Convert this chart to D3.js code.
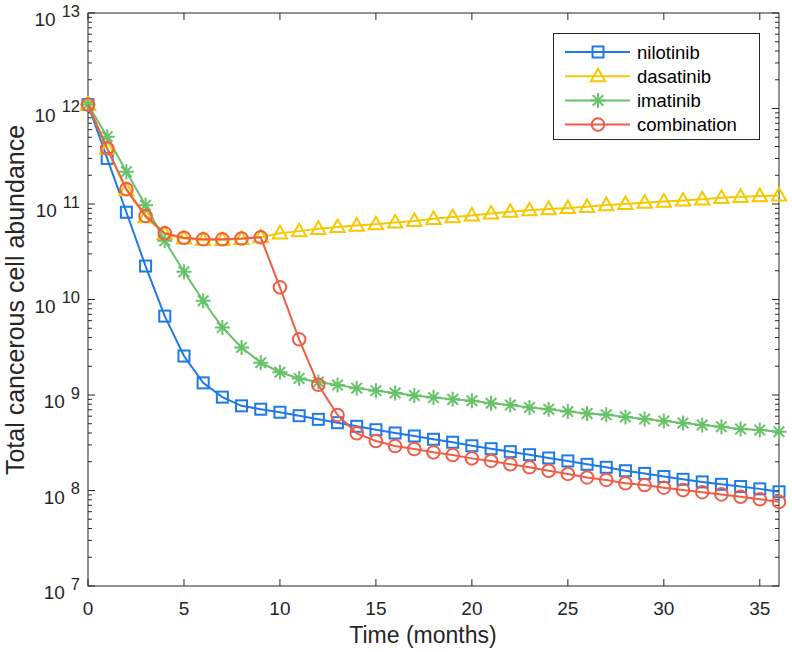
<!DOCTYPE html>
<html><head><meta charset="utf-8">
<script src="https://cdn.jsdelivr.net/npm/d3@7"></script>
<style>
body{margin:0;background:#fff;}
svg{display:block;font-family:"Liberation Sans",Arial,Helvetica,sans-serif;}
</style></head><body>
<svg id="chart" width="792" height="652"></svg>
<script>
const months = d3.range(0, 37);
const nilotinib = [1.1e12,3.0e11,8.2e10,2.24e10,6.7e9,2.56e9,1.34e9,9.5e8,7.7e8,7.1e8,6.6e8,6.07e8,5.56e8,5.13e8,4.7e8,4.33e8,4.0e8,3.72e8,3.44e8,3.2e8,2.94e8,2.74e8,2.55e8,2.37e8,2.19e8,2.04e8,1.88e8,1.75e8,1.61e8,1.51e8,1.40e8,1.31e8,1.23e8,1.16e8,1.10e8,1.04e8,9.7e7];
const dasatinib = [1.1e12,3.8e11,1.4e11,7.3e10,4.85e10,4.35e10,4.2e10,4.2e10,4.3e10,4.5e10,4.93e10,5.2e10,5.5e10,5.75e10,5.95e10,6.15e10,6.4e10,6.65e10,7.0e10,7.3e10,7.6e10,7.95e10,8.3e10,8.6e10,8.85e10,9.1e10,9.35e10,9.75e10,1.0e11,1.03e11,1.06e11,1.09e11,1.12e11,1.16e11,1.19e11,1.21e11,1.23e11];
const imatinib = [1.1e12,5.07e11,2.18e11,9.7e10,4.13e10,1.95e10,9.7e9,5.1e9,3.15e9,2.18e9,1.73e9,1.49e9,1.37e9,1.27e9,1.18e9,1.11e9,1.05e9,9.9e8,9.4e8,9.0e8,8.7e8,8.2e8,7.85e8,7.4e8,7.1e8,6.7e8,6.4e8,6.2e8,5.9e8,5.6e8,5.35e8,5.1e8,4.85e8,4.66e8,4.4e8,4.3e8,4.13e8];
const combination = [1.1e12,3.83e11,1.43e11,7.5e10,4.93e10,4.43e10,4.27e10,4.27e10,4.35e10,4.48e10,1.34e10,3.83e9,1.28e9,6.18e8,3.97e8,3.3e8,2.92e8,2.72e8,2.51e8,2.35e8,2.17e8,2.04e8,1.88e8,1.75e8,1.61e8,1.49e8,1.37e8,1.29e8,1.19e8,1.14e8,1.07e8,1.01e8,9.6e7,9.1e7,8.6e7,8.1e7,7.6e7];
const seriesNames = ["nilotinib","dasatinib","imatinib","combination"];
const xTicks = [0,5,10,15,20,25,30,35];
const yTickExps = [7,8,9,10,11,12,13];
const xLabel = "Time (months)";
const yLabel = "Total cancerous cell abundance";

const series = [
  {name:seriesNames[0], values:nilotinib, color:"#1f7ae6", marker:"square"},
  {name:seriesNames[1], values:dasatinib, color:"#f5c800", marker:"triangle"},
  {name:seriesNames[2], values:imatinib, color:"#68c26a", marker:"asterisk"},
  {name:seriesNames[3], values:combination, color:"#ef5d46", marker:"circle"}
];

const svg = d3.select("#chart");
const L=88, R=779, T=13, B=586;
const x = d3.scaleLinear().domain([0,36]).range([L,R]);
const y = d3.scaleLog().domain([1e7,1e13]).range([B,T]);
const axisColor = "#262626";

svg.append("rect").attr("x",L).attr("y",T).attr("width",R-L).attr("height",B-T)
  .attr("fill","none").attr("stroke",axisColor).attr("stroke-width",1);

const gx = svg.append("g");
xTicks.forEach(t=>{
  gx.append("line").attr("x1",x(t)).attr("x2",x(t)).attr("y1",B).attr("y2",B-7).attr("stroke",axisColor);
  gx.append("line").attr("x1",x(t)).attr("x2",x(t)).attr("y1",T).attr("y2",T+7).attr("stroke",axisColor);
  gx.append("text").attr("x",x(t)).attr("y",615).attr("text-anchor","middle")
    .attr("font-size",19).attr("fill",axisColor).text(t);
});
const gy = svg.append("g");
yTickExps.forEach(e=>{
  const v = Math.pow(10,e);
  gy.append("line").attr("x1",L).attr("x2",L+7).attr("y1",y(v)).attr("y2",y(v)).attr("stroke",axisColor);
  gy.append("line").attr("x1",R).attr("x2",R-7).attr("y1",y(v)).attr("y2",y(v)).attr("stroke",axisColor);
  if (e<13){
    for(let m=2;m<=9;m++){
      const mv = m*v;
      gy.append("line").attr("x1",L).attr("x2",L+4).attr("y1",y(mv)).attr("y2",y(mv)).attr("stroke",axisColor);
      gy.append("line").attr("x1",R).attr("x2",R-4).attr("y1",y(mv)).attr("y2",y(mv)).attr("stroke",axisColor);
    }
  }
  const txt = gy.append("text").attr("x",80).attr("y",y(v)+13).attr("text-anchor","end")
    .attr("font-size",19).attr("fill",axisColor);
  txt.append("tspan").text("10");
  txt.append("tspan").attr("dx",6).attr("dy",-9.5).attr("font-size",16.5).text(String(e));
});

svg.append("text").attr("x",423).attr("y",643).attr("text-anchor","middle")
  .attr("font-size",23).attr("fill",axisColor).text(xLabel);
svg.append("text").attr("transform",`translate(23.5,300) rotate(-90)`).attr("text-anchor","middle")
  .attr("font-size",25).attr("fill",axisColor).text(yLabel);

function drawMarker(g, type, cx, cy, color){
  if(type==="square"){
    g.append("rect").attr("x",cx-5.5).attr("y",cy-5.5).attr("width",11).attr("height",11)
      .attr("fill","none").attr("stroke",color).attr("stroke-width",2);
  } else if(type==="circle"){
    g.append("circle").attr("cx",cx).attr("cy",cy).attr("r",6.3)
      .attr("fill","none").attr("stroke",color).attr("stroke-width",2);
  } else if(type==="triangle"){
    const h=6.8;
    g.append("path").attr("d",`M${cx},${cy-h*1.1}L${cx+h*1.05},${cy+h*0.75}L${cx-h*1.05},${cy+h*0.75}Z`)
      .attr("fill","none").attr("stroke",color).attr("stroke-width",2).attr("stroke-linejoin","miter");
  } else if(type==="asterisk"){
    const r=7.5, d=r*0.707;
    g.append("path").attr("d",`M${cx-r},${cy}L${cx+r},${cy}M${cx},${cy-r}L${cx},${cy+r}M${cx-d},${cy-d}L${cx+d},${cy+d}M${cx-d},${cy+d}L${cx+d},${cy-d}`)
      .attr("fill","none").attr("stroke",color).attr("stroke-width",2);
  }
}

const line = d3.line().x((d,i)=>x(months[i])).y(d=>y(d));
const gp = svg.append("g");
series.forEach(s=>{
  const g = gp.append("g");
  g.append("path").attr("d",line(s.values)).attr("fill","none").attr("stroke",s.color).attr("stroke-width",2);
  s.values.forEach((v,i)=>drawMarker(g,s.marker,x(months[i]),y(v),s.color));
});

const lg = svg.append("g");
lg.append("rect").attr("x",553.5).attr("y",33.5).attr("width",206).attr("height",106)
  .attr("fill","#fff").attr("stroke",axisColor).attr("stroke-width",1);
series.forEach((s,i)=>{
  const ly = 52 + i*24.2;
  lg.append("line").attr("x1",565).attr("x2",630).attr("y1",ly).attr("y2",ly).attr("stroke",s.color).attr("stroke-width",2);
  drawMarker(lg,s.marker,598,ly,s.color);
  lg.append("text").attr("x",637).attr("y",ly+6.5).attr("font-size",18.5).attr("fill","#000").text(s.name);
});
</script>
</body></html>
